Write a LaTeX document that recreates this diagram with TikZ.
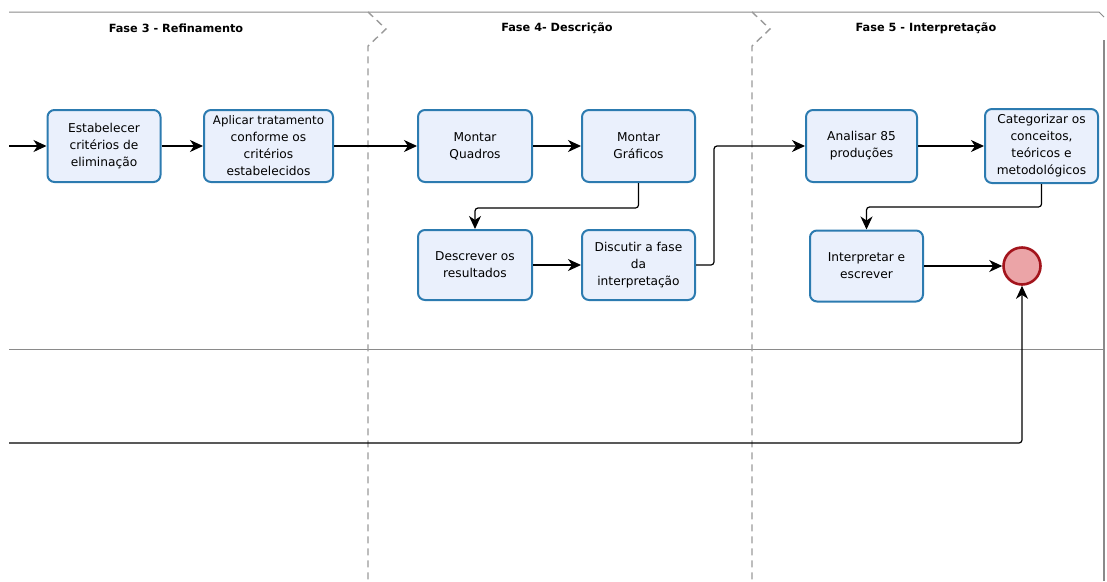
\documentclass[tikz,border=0pt]{standalone}
\usepackage{fontspec}
\setmainfont{DejaVu Sans}
\usetikzlibrary{arrows.meta}
\definecolor{boxfill}{HTML}{EAF0FC}
\definecolor{boxline}{HTML}{2C7BB0}
\definecolor{endfill}{HTML}{EBA4A7}
\definecolor{endline}{HTML}{A3141C}
\definecolor{lanegrey}{HTML}{8A8A8A}
\definecolor{dashgrey}{HTML}{9A9A9A}
\tikzset{
  taskbox/.style={draw=boxline, line width=2pt, fill=boxfill, rounded corners=7pt,
    inner sep=0pt, align=center, font=\fontsize{12.2}{17}\selectfont},
  flow/.style={draw=black, line width=1.2pt, rounded corners=3pt,
    -{Stealth[length=13pt,width=12pt,inset=4pt]}},
  lane/.style={draw=lanegrey, line width=1pt},
  sep/.style={draw=dashgrey, line width=1.4pt, dash pattern=on 7pt off 5pt},
  phasetitle/.style={font=\fontsize{11.3}{13}\selectfont\bfseries, inner sep=0pt},
  endevent/.style={circle, draw=endline, fill=endfill, line width=2.6pt, minimum size=37pt, inner sep=0pt}
}
\begin{document}
\begin{tikzpicture}[x=1pt,y=-1pt]
\useasboundingbox (0,0) rectangle (1107,581);
% lanes and frame
\draw[lane] (9,12) -- (1099,12) -- (1104,17);
\draw[lane, line width=2.2pt] (1104,40) -- (1104,581);
\draw[lane] (9,349) -- (1104,349);
% phase separators
\draw[sep] (368,12) -- (386,29) -- (368,46) -- (368,581);
\draw[sep] (752,12) -- (770,29) -- (752,46) -- (752,581);
% phase titles
\node[phasetitle] (t3) at (176,28) {Fase 3 - Refinamento};
\node[phasetitle] (t4) at (557,28) {Fase 4- Descrição};
\node[phasetitle] (t5) at (926,28) {Fase 5 - Interpretação};
% tasks
\node[taskbox, minimum width=113pt, minimum height=72pt] (b1) at (104,146) {Estabelecer\\critérios de\\eliminação};
\node[taskbox, minimum width=129pt, minimum height=72pt] (b2) at (268.5,146) {{\fontsize{11.8}{17}\selectfont Aplicar tratamento}\\conforme os\\critérios\\estabelecidos};
\node[taskbox, minimum width=114pt, minimum height=72pt] (b3) at (475,146) {Montar\\Quadros};
\node[taskbox, minimum width=113pt, minimum height=72pt] (b4) at (638.5,146) {Montar\\Gráficos};
\node[taskbox, minimum width=114pt, minimum height=70pt] (b5) at (475,265) {Descrever os\\resultados};
\node[taskbox, minimum width=113pt, minimum height=70pt] (b6) at (638.5,265) {Discutir a fase\\da\\interpretação};
\node[taskbox, minimum width=111pt, minimum height=72pt] (b7) at (861.5,146) {Analisar 85\\produções};
\node[taskbox, minimum width=113pt, minimum height=74pt] (b8) at (1041.5,146) {Categorizar os\\conceitos,\\teóricos e\\metodológicos};
\node[taskbox, minimum width=113pt, minimum height=71pt] (b9) at (866.5,266) {Interpretar e\\escrever};
\node[endevent] (end) at (1022,266) {};
% start points
\coordinate (s1) at (9,146);
\coordinate (s2) at (9,443);
% connectors
\draw[flow] (s1) -- (b1);
\draw[flow] (b1) -- (b2);
\draw[flow] (b2) -- (b3);
\draw[flow] (b3) -- (b4);
\draw[flow] (b4.south) -- ++(0,25) -| (b5.north);
\draw[flow] (b5) -- (b6);
\draw[flow] (b6.east) -- ++(18,0) |- (b7.west);
\draw[flow] (b7) -- (b8);
\draw[flow] (b8.south) -- ++(0,23) -| (b9.north);
\draw[flow] (b9) -- (end);
\draw[flow] (s2) -| (end.south);
\end{tikzpicture}
\end{document}
